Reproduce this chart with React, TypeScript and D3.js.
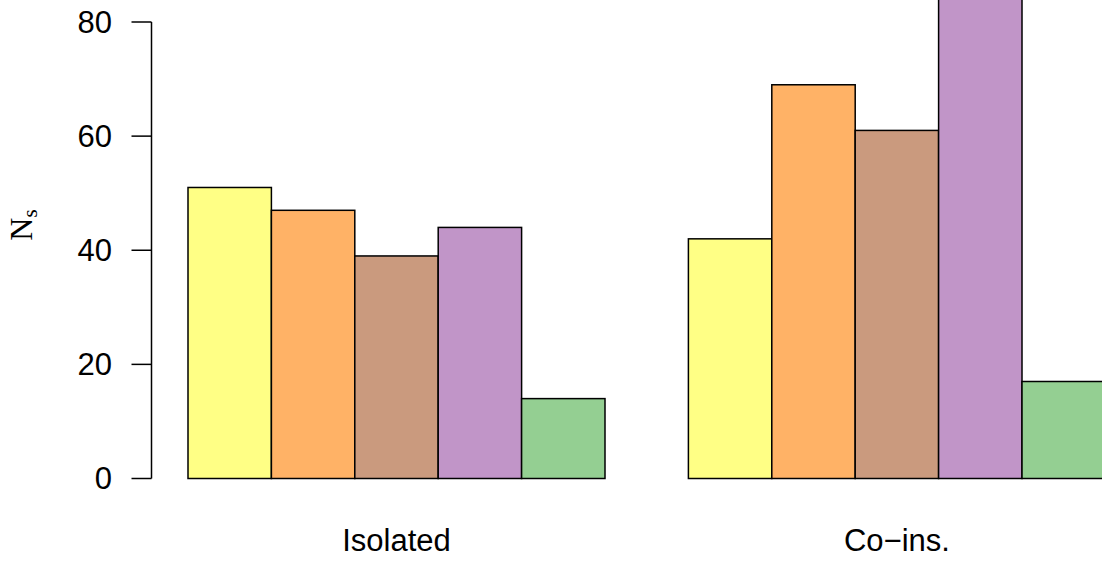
import React from "react";
import * as d3 from "d3";

const groups = ["Isolated", "Co\u2212ins."];
const isolatedValues = [51, 47, 39, 44, 14];
const coinsValues = [42, 69, 61, 89, 17];
const barColors = ["#FFFF85", "#FFB266", "#CA9A7E", "#C195C8", "#94CF92"];
const yTicks = [0, 20, 40, 60, 80];

export default function App() {
  const W = 1102, H = 561;
  const series = [isolatedValues, coinsValues];
  const nBars = isolatedValues.length;
  // bar unit positions: group g starts at 1 + g*(nBars+1)
  const x = d3.scaleLinear().domain([1, 12]).range([188, 188 + 11 * 83.4]);
  const y = d3.scaleLinear().domain([0, 80]).range([478.5, 22]);
  const font = "'Liberation Sans', Arial, sans-serif";
  const fs = 31;

  return (
    <svg width={W} height={H} style={{ position: "absolute", left: 0, top: 0, background: "#fff" }}>
      <rect x={0} y={0} width={W} height={H} fill="#fff" />
      {series.map((vals, g) =>
        vals.map((v, i) => {
          const u = 1 + g * (nBars + 1) + i;
          return (
            <rect
              key={`${g}-${i}`}
              x={x(u)}
              y={y(v)}
              width={x(u + 1) - x(u)}
              height={y(0) - y(v)}
              fill={barColors[i]}
              stroke="#000"
              strokeWidth={1.5}
            />
          );
        })
      )}
      {/* y axis */}
      <line x1={151.5} x2={151.5} y1={y(0)} y2={y(80)} stroke="#000" strokeWidth={1.5} />
      {yTicks.map((t) => (
        <g key={t}>
          <line x1={131.5} x2={151.5} y1={y(t)} y2={y(t)} stroke="#000" strokeWidth={1.5} />
          <text
            x={112}
            y={y(t)}
            textAnchor="end"
            dominantBaseline="central"
            fontFamily={font}
            fontSize={fs}
            fill="#000"
          >
            {t}
          </text>
        </g>
      ))}
      {/* group labels */}
      {groups.map((gname, g) => {
        const start = 1 + g * (nBars + 1);
        const cx = (x(start) + x(start + nBars)) / 2;
        return (
          <text key={gname} x={cx} y={551} textAnchor="middle" fontFamily={font} fontSize={fs} fill="#000">
            {gname}
          </text>
        );
      })}
      {/* y label */}
      <text
        transform="translate(32,225) rotate(-90)"
        textAnchor="middle"
        fontFamily="'Liberation Serif', 'Times New Roman', serif"
        fontSize={32}
        fill="#000"
      >
        N
        <tspan fontSize={21} dy={5}>s</tspan>
      </text>
    </svg>
  );
}
